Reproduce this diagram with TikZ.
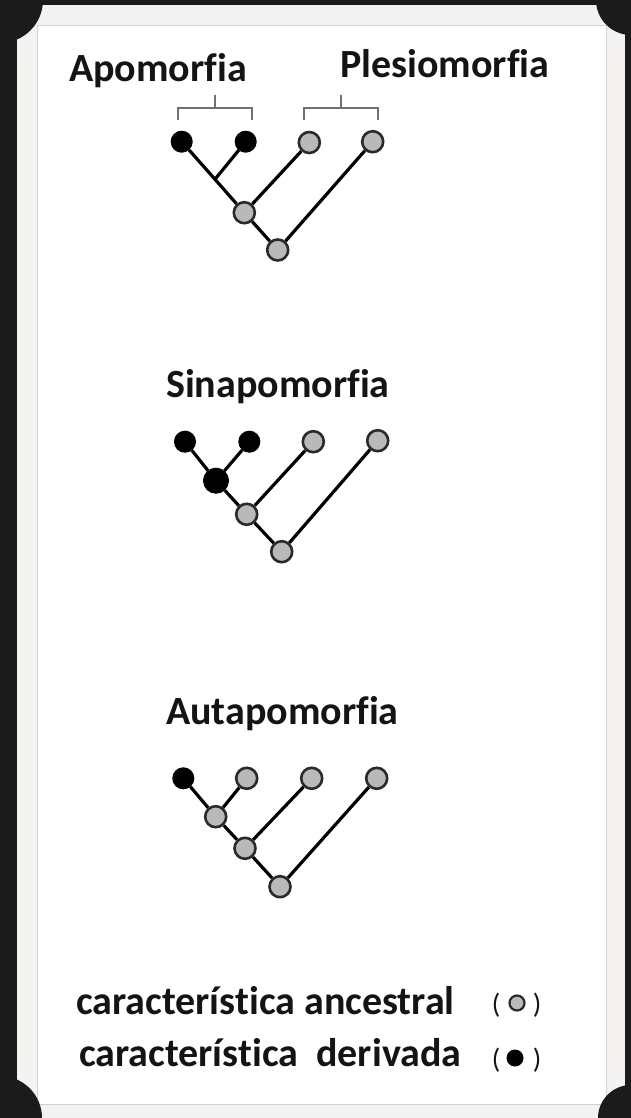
\documentclass[tikz,border=0pt]{standalone}
\usepackage{fontspec}
\setmainfont{Carlito}[Ligatures={NoCommon}]
\definecolor{frame}{HTML}{1B1B1B}
\definecolor{card}{HTML}{F4F3F1}
\definecolor{rim}{HTML}{D2D2D2}
\definecolor{ancfill}{HTML}{B9B9B9}
\definecolor{ancline}{HTML}{2A2A2A}
\definecolor{txt}{HTML}{141414}
\definecolor{brk}{HTML}{707070}
\pgfdeclarelayer{bgl}
\pgfdeclarelayer{edgel}
\pgfsetlayers{bgl,edgel,main}
\tikzset{
  anc/.style={circle, fill=ancfill, draw=ancline, line width=2.6pt, minimum size=21pt, inner sep=0pt},
  der/.style={circle, fill=black, draw=black, line width=1pt, minimum size=21pt, inner sep=0pt},
  derbig/.style={circle, fill=black, draw=black, line width=1pt, minimum size=25pt, inner sep=0pt},
  branch/.style={line width=3.2pt, black},
  title/.style={font=\bfseries\fontsize{40}{44}\selectfont, text=txt, inner sep=0pt, anchor=base west},
  legend/.style={font=\bfseries\fontsize{40}{44}\selectfont, text=txt, inner sep=0pt, anchor=base west},
  paren/.style={font=\fontsize{28}{30}\selectfont, text=txt, inner sep=0pt, anchor=base},
  bracket/.style={line width=1.6pt, brk},
  sancs/.style={circle, fill=ancfill, draw=ancline, line width=2.2pt, minimum size=15pt, inner sep=0pt},
  sder/.style={circle, fill=black, minimum size=17pt, inner sep=0pt}
}
\begin{document}
\begin{tikzpicture}[x=1pt,y=-1pt]
\useasboundingbox (0,0) rectangle (631,1118);
\begin{pgfonlayer}{bgl}
  \fill[frame] (0,0) rectangle (631,1118);
  \fill[card] (17,5) rectangle (625,1118);
  \fill[white] (37,26) rectangle (606,1104);
  \draw[rim, line width=1pt] (37,26) rectangle (606,1104);
  \fill[frame] (0,0) circle (43);
  \fill[frame] (631,0) circle (35);
  \fill[frame] (0,1118) circle (42);
  \fill[frame] (631,1118) circle (33);
\end{pgfonlayer}

% ---- Titles
\node[title] (tApo) at (69,82) {Apomorfia};
\node[title] (tPle) at (340,78) {Plesiomorfia};
\node[title] (tSin) at (166,397) {Sinapomorfia};
\node[title] (tAut) at (166,724) {Autapomorfia};

% ---- Tree 1
\node[der] (a1) at (181.7,141.7) {};
\node[der] (b1) at (245.7,141.7) {};
\node[anc] (c1) at (309.3,142.5) {};
\node[anc] (d1) at (372.7,141.7) {};
\coordinate (j1) at (215,179.3);
\node[anc] (e1) at (244.3,212.7) {};
\node[anc] (f1) at (277.7,250) {};
\begin{pgfonlayer}{edgel}
  \draw[branch] (a1) -- (j1) -- (e1) -- (f1);
  \draw[branch] (b1) -- (j1);
  \draw[branch] (c1) -- (e1);
  \draw[branch] (d1) -- (f1);
\end{pgfonlayer}
% brackets
\coordinate (bl1) at (178,120);
\coordinate (bl2) at (252,120);
\coordinate (blt) at (215,95);
\coordinate (br1) at (304,120);
\coordinate (br2) at (378,120);
\coordinate (brt) at (341,95);
\draw[bracket] (bl1) |- (bl2 |- 0,108) -- (bl2);
\draw[bracket] (blt) -- (blt |- 0,108);
\draw[bracket] (br1) |- (br2 |- 0,108) -- (br2);
\draw[bracket] (brt) -- (brt |- 0,108);

% ---- Tree 2
\node[der] (a2) at (185,441.7) {};
\node[der] (b2) at (249.3,441.7) {};
\node[anc] (c2) at (313.3,441.7) {};
\node[anc] (d2) at (377.7,440.7) {};
\node[derbig] (g2) at (216,480.7) {};
\node[anc] (e2) at (246.7,514.3) {};
\node[anc] (f2) at (281.7,551.7) {};
\begin{pgfonlayer}{edgel}
  \draw[branch] (a2) -- (g2) -- (e2) -- (f2);
  \draw[branch] (b2) -- (g2);
  \draw[branch] (c2) -- (e2);
  \draw[branch] (d2) -- (f2);
\end{pgfonlayer}

% ---- Tree 3
\node[der] (a3) at (183.3,778.3) {};
\node[anc] (b3) at (246.7,778.3) {};
\node[anc] (c3) at (311.7,778.3) {};
\node[anc] (d3) at (376.7,778.3) {};
\node[anc] (g3) at (215.7,816.7) {};
\node[anc] (e3) at (245,848.3) {};
\node[anc] (f3) at (280,886.7) {};
\begin{pgfonlayer}{edgel}
  \draw[branch] (a3) -- (g3) -- (e3) -- (f3);
  \draw[branch] (b3) -- (g3);
  \draw[branch] (c3) -- (e3);
  \draw[branch] (d3) -- (f3);
\end{pgfonlayer}

% ---- Legend
\node[legend] (l1) at (76,1014) {característica ancestral};
\node[legend] (l2) at (79,1066) {característica\ \ derivada};
\node[paren] (p1l) at (496,1013) {(};
\node[sancs] (s1) at (517,1003) {};
\node[paren] (p1r) at (537,1013) {)};
\node[paren] (p2l) at (496,1068) {(};
\node[sder] (s2) at (515,1058) {};
\node[paren] (p2r) at (537,1068) {)};
\end{tikzpicture}
\end{document}
